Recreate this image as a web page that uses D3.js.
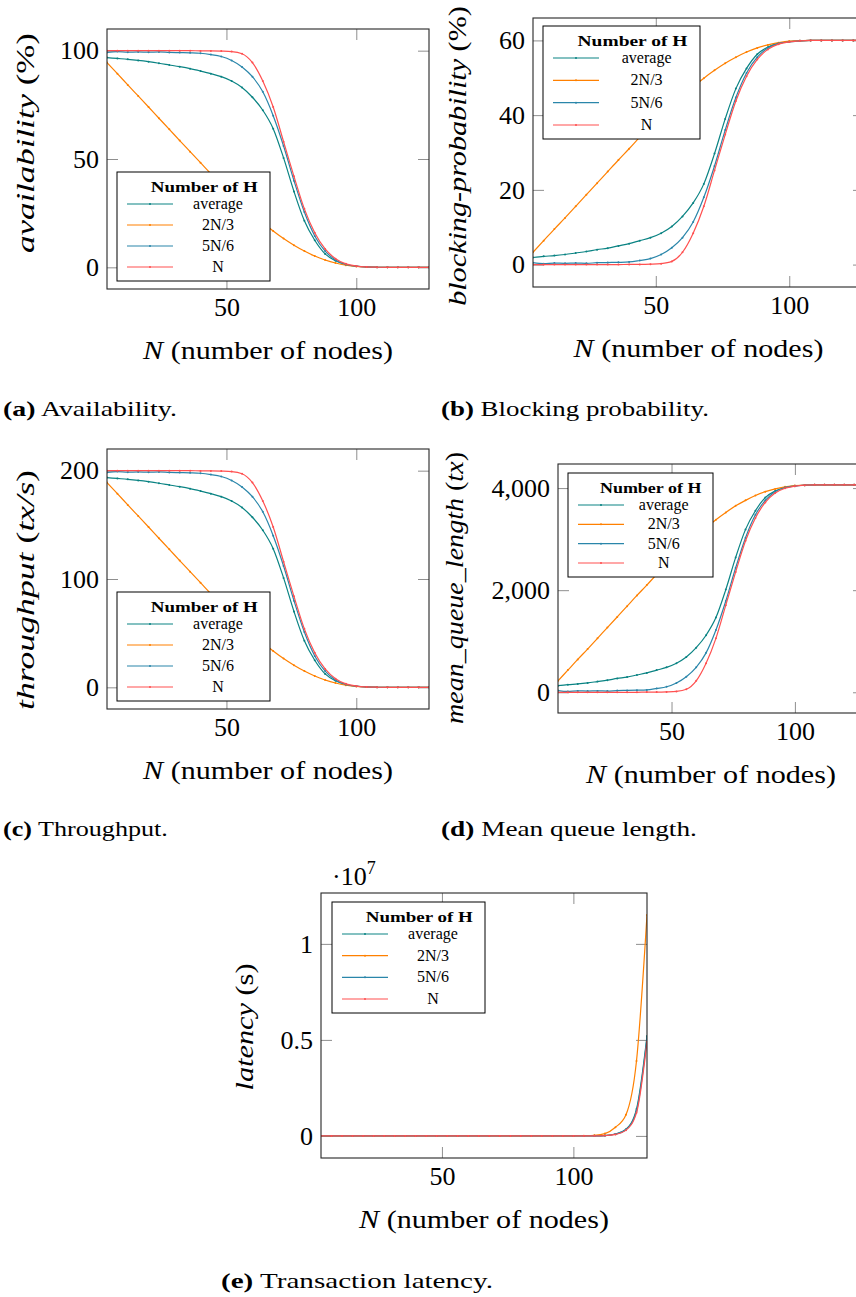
<!DOCTYPE html>
<html>
<head>
<meta charset="utf-8">
<script src="https://cdn.jsdelivr.net/npm/d3@7"></script>
<style>
  body { margin: 0; background: #fff; }
  svg { display: block; }
  svg text { font-family: "Liberation Serif", "Times New Roman", Tinos, serif !important; white-space: pre; }
</style>
</head>
<body>
<svg id="fig" width="856" height="1297"></svg>
<script>
// number of nodes (x values shared by every panel)
const nodes = [4, 8, 12, 16, 20, 24, 28, 32, 36, 40, 44, 48, 52, 56, 60, 64,
               68, 72, 76, 80, 84, 88, 92, 96, 100, 104, 108, 112, 116, 120, 124, 128];

const seriesLabels = ["average", "2N/3", "5N/6", "N"];
const seriesColors = ["#0a8383", "#ff8000", "#2a86aa", "#ff5050"];

// (a) availability (%)
const availAverage = [96.8, 96.4, 96.0, 95.5, 94.9, 94.2, 93.4, 92.6, 91.7, 90.6, 89.4, 88.0, 86.0, 83.0, 78.5, 72.5,
                      64.0, 50.5, 35.0, 21.5, 12.5, 6.2, 3.0, 1.3, 0.5, 0.2, 0.05, 0, 0, 0, 0, 0];
const availTwoThirds = [94.5, 89.4, 84.2, 79.1, 74.0, 68.8, 63.7, 58.5, 53.4, 48.3, 43.2, 38.3, 33.5, 29.0, 24.8, 20.6,
                        16.8, 13.3, 10.2, 7.5, 5.2, 3.4, 2.0, 1.0, 0.4, 0.15, 0.05, 0, 0, 0, 0, 0];
const availFiveSixths = [99.2, 99.6, 99.3, 99.4, 99.3, 99.4, 99.2, 99.1, 99.0, 98.8, 98.2, 97.3, 95.5, 92.5, 88.0, 81.0,
                         70.0, 56.0, 40.0, 25.5, 14.5, 7.5, 3.4, 1.3, 0.6, 0.2, 0.05, 0, 0, 0, 0, 0];
const availN = [100, 100, 100, 100, 100, 100, 100, 100, 100, 99.9, 99.9, 99.8, 99.6, 98.6, 94.5, 86.0,
                74.0, 58.0, 42.0, 27.0, 16.0, 8.5, 4.0, 1.6, 0.6, 0.2, 0.05, 0, 0, 0, 0, 0];

// (b) blocking probability (%)
const blockAverage = [1.9, 2.2, 2.4, 2.7, 3.1, 3.5, 4.0, 4.4, 5.0, 5.6, 6.4, 7.2, 8.4, 10.2, 12.9, 16.5,
                      21.6, 29.7, 39.0, 47.1, 52.5, 56.3, 58.2, 59.2, 59.7, 59.9, 60, 60, 60, 60, 60, 60];
const blockTwoThirds = [3.3, 6.4, 9.5, 12.5, 15.6, 18.7, 21.8, 24.9, 28.0, 31.0, 34.1, 37.0, 39.9, 42.6, 45.1, 47.6,
                        49.9, 52.0, 53.9, 55.5, 56.9, 58.0, 58.8, 59.4, 59.8, 59.9, 60, 60, 60, 60, 60, 60];
const blockFiveSixths = [0.5, 0.25, 0.4, 0.35, 0.4, 0.35, 0.5, 0.55, 0.6, 0.7, 1.1, 1.6, 2.7, 4.5, 7.2, 11.4,
                         18.0, 26.4, 36.0, 44.7, 51.3, 55.5, 58.0, 59.2, 59.6, 59.9, 60, 60, 60, 60, 60, 60];
const blockN = [0, 0, 0, 0, 0, 0, 0, 0, 0, 0.05, 0.05, 0.1, 0.25, 0.85, 3.3, 8.4,
                15.6, 25.2, 34.8, 43.8, 50.4, 54.9, 57.6, 59.0, 59.6, 59.9, 60, 60, 60, 60, 60, 60];

// (c) throughput (tx/s)
const tputAverage = [193.6, 192.8, 192.0, 191.0, 189.8, 188.4, 186.8, 185.2, 183.4, 181.2, 178.8, 176.0, 172.0, 166.0, 157.0, 145.0,
                     128.0, 101.0, 70.0, 43.0, 25.0, 12.4, 6.0, 2.6, 1.0, 0.4, 0.1, 0, 0, 0, 0, 0];
const tputTwoThirds = [189.0, 178.8, 168.4, 158.2, 148.0, 137.6, 127.4, 117.0, 106.8, 96.6, 86.4, 76.6, 67.0, 58.0, 49.6, 41.2,
                       33.6, 26.6, 20.4, 15.0, 10.4, 6.8, 4.0, 2.0, 0.8, 0.3, 0.1, 0, 0, 0, 0, 0];
const tputFiveSixths = [198.4, 199.2, 198.6, 198.8, 198.6, 198.8, 198.4, 198.2, 198.0, 197.6, 196.4, 194.6, 191.0, 185.0, 176.0, 162.0,
                        140.0, 112.0, 80.0, 51.0, 29.0, 15.0, 6.8, 2.6, 1.2, 0.4, 0.1, 0, 0, 0, 0, 0];
const tputN = [200, 200, 200, 200, 200, 200, 200, 200, 200, 199.8, 199.8, 199.6, 199.2, 197.2, 189.0, 172.0,
               148.0, 116.0, 84.0, 54.0, 32.0, 17.0, 8.0, 3.2, 1.2, 0.4, 0.1, 0, 0, 0, 0, 0];

// (d) mean queue length (tx)
const queueAverage = [129, 149, 163, 183, 210, 237, 271, 298, 339, 379, 434, 488, 569, 691, 874, 1118,
                      1463, 2012, 2642, 3191, 3557, 3814, 3943, 4011, 4045, 4058, 4065, 4065, 4065, 4065, 4065, 4065];
const queueTwoThirds = [224, 434, 644, 847, 1057, 1267, 1477, 1687, 1897, 2100, 2310, 2507, 2703, 2886, 3055, 3225,
                        3381, 3523, 3652, 3760, 3855, 3930, 3984, 4024, 4051, 4058, 4065, 4065, 4065, 4065, 4065, 4065];
const queueFiveSixths = [34, 17, 27, 24, 27, 24, 34, 37, 41, 47, 75, 108, 183, 305, 488, 772,
                         1220, 1789, 2439, 3028, 3476, 3760, 3930, 4011, 4038, 4058, 4065, 4065, 4065, 4065, 4065, 4065];
const queueN = [0, 0, 0, 0, 0, 0, 0, 0, 0, 3, 3, 7, 17, 58, 224, 569,
                1057, 1707, 2358, 2967, 3415, 3719, 3902, 3997, 4038, 4058, 4065, 4065, 4065, 4065, 4065, 4065];

// (e) transaction latency (s)
const latAverage = [0, 0, 0, 0, 0, 0, 0, 0, 0, 0, 0, 0, 0, 0, 0, 0,
                    0, 0, 0, 0, 0, 0, 0, 0, 0, 1e3, 5e3, 2e4, 1e5, 3.5e5, 1.4e6, 5.2e6];
const latTwoThirds = [0, 0, 0, 0, 0, 0, 0, 0, 0, 0, 0, 0, 0, 0, 0, 0,
                      0, 0, 0, 0, 0, 0, 0, 0, 2e3, 1e4, 3e4, 1.2e5, 4.5e5, 1.1e6, 3.9e6, 1.15e7];
const latFiveSixths = [0, 0, 0, 0, 0, 0, 0, 0, 0, 0, 0, 0, 0, 0, 0, 0,
                       0, 0, 0, 0, 0, 0, 0, 0, 0, 1e3, 4e3, 2e4, 9e4, 3.2e5, 1.3e6, 5.1e6];
const latN = [0, 0, 0, 0, 0, 0, 0, 0, 0, 0, 0, 0, 0, 0, 0, 0,
              0, 0, 0, 0, 0, 0, 0, 0, 0, 0, 3e3, 2e4, 8e4, 3e5, 1.2e6, 4.9e6];

const xTicks = [50, 100];
const xDomain = [4, 128];

const panels = [
    {
        key: "a", box: [107, 29, 429, 289], yDomain: [-10, 110], yTicks: [0, 50, 100], fmt: d3.format("d"),
        series: [availAverage, availTwoThirds, availFiveSixths, availN],
        ylabel: [["availability", true], [" (%)", false]], ylabelAt: [34, 143, 220],
        legend: [117, 172, 153, 109],
        caption: ["(a)", " Availability.", 3, 416, 174]
    },
    {
        key: "b", box: [533, 18, 864, 287], yDomain: [-6, 66], yTicks: [0, 20, 40, 60], fmt: d3.format("d"),
        series: [blockAverage, blockTwoThirds, blockFiveSixths, blockN],
        ylabel: [["blocking-probability", true], [" (%)", false]], ylabelAt: [466, 156, 300],
        legend: [543, 26, 157, 113],
        caption: ["(b)", " Blocking probability.", 441, 416, 268]
    },
    {
        key: "c", box: [107, 449, 429, 709], yDomain: [-20, 220], yTicks: [0, 100, 200], fmt: d3.format("d"),
        series: [tputAverage, tputTwoThirds, tputFiveSixths, tputN],
        ylabel: [["throughput", true], [" (", false], ["tx/s", true], [")", false]], ylabelAt: [34, 590, 240],
        legend: [117, 592, 153, 109],
        caption: ["(c)", " Throughput.", 3, 836, 165]
    },
    {
        key: "d", box: [558, 464, 864, 713], yDomain: [-406, 4472], yTicks: [0, 2000, 4000], fmt: d3.format(","),
        series: [queueAverage, queueTwoThirds, queueFiveSixths, queueN],
        ylabel: [["mean_queue_length", true], [" (", false], ["tx", true], [")", false]], ylabelAt: [463, 588, 272],
        legend: [568, 473, 145, 104],
        caption: ["(d)", " Mean queue length.", 441, 836, 256]
    },
    {
        key: "e", box: [321, 893, 647, 1158], yDomain: [-1.15e6, 1.265e7], yTicks: [0, 5e6, 1e7], fmt: d => d3.format("")(d / 1e7),
        series: [latAverage, latTwoThirds, latFiveSixths, latN],
        ylabel: [["latency", true], [" (s)", false]], ylabelAt: [253, 1027, 127],
        legend: [332, 902, 153, 111],
        caption: ["(e)", " Transaction latency.", 221, 1288, 272],
        exponent: true
    }
];

const svg = d3.select("#fig");

// stretch a text so that it spans the measured width of the original
function fitText(t, target, place) {
    const w = t.node().getComputedTextLength();
    t.attr("transform", place(target / w));
}

function drawPanel(p) {
    const [x0, y0, x1, y1] = p.box;
    const x = d3.scaleLinear().domain(xDomain).range([x0, x1]);
    const y = d3.scaleLinear().domain(p.yDomain).range([y1, y0]);
    const g = svg.append("g").attr("class", "panel-" + p.key);

    g.append("clipPath").attr("id", "clip-" + p.key)
        .append("rect").attr("x", x0).attr("y", y0).attr("width", x1 - x0).attr("height", y1 - y0);

    // ticks on all four sides, pointing inwards
    const axes = g.append("g");
    axes.append("g").attr("transform", `translate(${x0},0)`)
        .call(d3.axisLeft(y).tickValues(p.yTicks).tickFormat(p.fmt).tickSize(-11).tickPadding(8));
    axes.append("g").attr("transform", `translate(${x1},0)`)
        .call(d3.axisRight(y).tickValues(p.yTicks).tickFormat("").tickSize(-11));
    axes.append("g").attr("transform", `translate(0,${y1})`)
        .call(d3.axisBottom(x).tickValues(xTicks).tickFormat(d3.format("d")).tickSize(-11).tickPadding(9));
    axes.append("g").attr("transform", `translate(0,${y0})`)
        .call(d3.axisTop(x).tickValues(xTicks).tickFormat("").tickSize(-11));
    axes.selectAll(".domain").remove();
    axes.selectAll("g").attr("font-size", 26);
    axes.selectAll(".tick line").attr("stroke", "#8f8f8f").attr("stroke-width", 1);
    axes.selectAll(".tick text").attr("fill", "#000");

    // curves
    const line = d3.line()
        .x((d, i) => x(nodes[i]))
        .y(d => y(d))
        .curve(d3.curveMonotoneX);
    const plot = g.append("g").attr("clip-path", `url(#clip-${p.key})`);
    p.series.forEach((values, si) => {
        plot.append("path")
            .attr("d", line(values))
            .attr("fill", "none")
            .attr("stroke", seriesColors[si])
            .attr("stroke-width", 1.2);
        plot.selectAll(null)
            .data(values)
            .enter()
            .append("circle")
            .attr("cx", (d, i) => x(nodes[i]))
            .attr("cy", d => y(d))
            .attr("r", 1)
            .attr("fill", seriesColors[si]);
    });

    // frame
    g.append("rect")
        .attr("x", x0).attr("y", y0)
        .attr("width", x1 - x0).attr("height", y1 - y0)
        .attr("fill", "none").attr("stroke", "#262626").attr("stroke-width", 1.1);

    // legend
    const [lx, ly, lw, lh] = p.legend;
    const leg = g.append("g");
    leg.append("rect")
        .attr("x", lx).attr("y", ly).attr("width", lw).attr("height", lh)
        .attr("fill", "#fff").attr("stroke", "#000").attr("stroke-width", 1);
    const title = leg.append("text")
        .attr("text-anchor", "middle").attr("font-size", 15.5).attr("font-weight", "bold")
        .text("Number of H");
    fitText(title, lw * 0.7, s => `translate(${lx + lw * 0.57},${ly + 20}) scale(${s},1)`);
    const rowGap = (lh - 46) / 3;
    seriesLabels.forEach((name, si) => {
        const ry = ly + 37 + si * rowGap;
        leg.append("line")
            .attr("x1", lx + 10).attr("x2", lx + 56)
            .attr("y1", ry - 5).attr("y2", ry - 5)
            .attr("stroke", seriesColors[si]).attr("stroke-width", 1.2);
        leg.append("circle")
            .attr("cx", lx + 33).attr("cy", ry - 5).attr("r", 1)
            .attr("fill", seriesColors[si]);
        leg.append("text")
            .attr("x", lx + lw * 0.66).attr("y", ry)
            .attr("text-anchor", "middle").attr("font-size", 16)
            .text(name);
    });

    // x label
    const xl = g.append("text").attr("font-size", 26).attr("text-anchor", "middle");
    xl.append("tspan").attr("font-style", "italic").text("N");
    xl.append("tspan").text(" (number of nodes)");
    fitText(xl, 250, s => `translate(${(x0 + x1) / 2},${y1 + 70}) scale(${s},1)`);

    // y label
    const [bx, cy, len] = p.ylabelAt;
    const yl = g.append("text").attr("font-size", 26).attr("text-anchor", "middle");
    p.ylabel.forEach(([s, it]) => yl.append("tspan").attr("font-style", it ? "italic" : null).text(s));
    fitText(yl, len, s => `translate(${bx},${cy}) rotate(-90) scale(${s},1)`);

    if (p.exponent) {
        const ex = g.append("text").attr("font-size", 26)
            .attr("x", x0 + 11).attr("y", y0 - 8);
        ex.append("tspan").text("·10");
        ex.append("tspan").attr("font-size", 18).attr("dy", -11).text("7");
    }

    // caption
    const [tag, rest, cx, cyy, cw] = p.caption;
    const cap = g.append("text").attr("font-size", 22);
    cap.append("tspan").attr("font-weight", "bold").text(tag);
    cap.append("tspan").text(rest);
    fitText(cap, cw, s => `translate(${cx},${cyy}) scale(${s},1)`);
}

panels.forEach(drawPanel);
</script>
</body>
</html>
